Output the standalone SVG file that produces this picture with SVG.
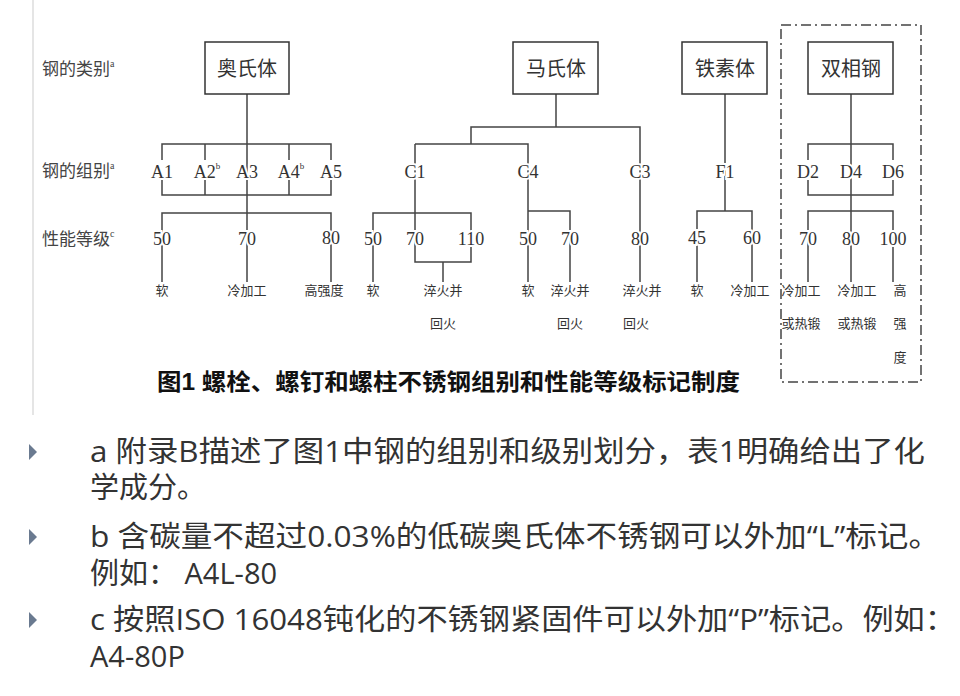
<svg xmlns="http://www.w3.org/2000/svg" width="960" height="696" viewBox="0 0 960 696">
<style>
.l{stroke:#444;stroke-width:1.5;fill:none}
.b{fill:#fff;stroke:#333;stroke-width:1.5}
.t{font-family:"Liberation Serif","Noto Sans CJK SC",serif;fill:#333;text-anchor:middle}
.n{font-size:18px}
.s{font-size:13px}
.h{font-size:20px}
.lab{font-family:"Liberation Serif","Noto Sans CJK SC",serif;fill:#444;font-size:17px}
.p{font-family:"Open Sans","Noto Sans CJK SC",sans-serif;font-size:29px;fill:#333}
.tri{fill:#6a7a90}
</style>
<rect width="960" height="696" fill="#fff"/>
<line x1="33" y1="0" x2="33" y2="415" stroke="#ddd" stroke-width="1.5"/>
<g id="rowlabels">
<text class="lab" x="42" y="75">钢的类别<tspan font-size="10" dy="-8">a</tspan></text>
<text class="lab" x="42" y="177">钢的组别<tspan font-size="10" dy="-8">a</tspan></text>
<text class="lab" x="42" y="245">性能等级<tspan font-size="10" dy="-8">c</tspan></text>
</g>
<g id="connectors">
<path class="l" d="M247 94V282M162 160V144H331V160M205 144V160M289 144V160M162 180V195H331V180M205 180V195M289 180V195M162 282V213H331V282"/>
<path class="l" d="M556 94V127M471 144V127H640V282M415 144H528V282M415 144V262H471V213H373V282M443 262V282M528 211H570V282"/>
<path class="l" d="M725 94V211M697 282V211H752V282"/>
<path class="l" d="M851 94V282M808 160V144H893V160M808 180V195H893V180M808 282V211H893V282"/>
<rect x="781" y="25" width="140" height="357" fill="none" stroke="#444" stroke-width="1.5" stroke-dasharray="10 4 2 4"/>
</g>
<g id="austenite"><rect class="b" x="205" y="42" width="84" height="52"/><text class="t h" x="247" y="76">奥氏体</text></g>
<g id="martensite"><rect class="b" x="513" y="42" width="85" height="52"/><text class="t h" x="556" y="76">马氏体</text></g>
<g id="ferrite"><rect class="b" x="682" y="42" width="85" height="52"/><text class="t h" x="725" y="76">铁素体</text></g>
<g id="duplex"><rect class="b" x="808" y="42" width="85" height="52"/><text class="t h" x="851" y="76">双相钢</text></g>
<g id="groups">
<text class="t n" x="162" y="178" stroke="#fff" stroke-width="4" paint-order="stroke">A1</text>
<text class="t n" x="207" y="178" stroke="#fff" stroke-width="4" paint-order="stroke">A2<tspan font-size="9" dy="-9" stroke-width="0">b</tspan></text>
<text class="t n" x="247" y="178" stroke="#fff" stroke-width="4" paint-order="stroke">A3</text>
<text class="t n" x="291" y="178" stroke="#fff" stroke-width="4" paint-order="stroke">A4<tspan font-size="9" dy="-9" stroke-width="0">b</tspan></text>
<text class="t n" x="331" y="178" stroke="#fff" stroke-width="4" paint-order="stroke">A5</text>
<text class="t n" x="415" y="178" stroke="#fff" stroke-width="4" paint-order="stroke">C1</text>
<text class="t n" x="528" y="178" stroke="#fff" stroke-width="4" paint-order="stroke">C4</text>
<text class="t n" x="640" y="178" stroke="#fff" stroke-width="4" paint-order="stroke">C3</text>
<text class="t n" x="725" y="178" stroke="#fff" stroke-width="4" paint-order="stroke">F1</text>
<text class="t n" x="808" y="178" stroke="#fff" stroke-width="4" paint-order="stroke">D2</text>
<text class="t n" x="851" y="178" stroke="#fff" stroke-width="4" paint-order="stroke">D4</text>
<text class="t n" x="893" y="178" stroke="#fff" stroke-width="4" paint-order="stroke">D6</text>
</g>
<g id="grades">
<text class="t n" x="162" y="245" stroke="#fff" stroke-width="4" paint-order="stroke">50</text>
<text class="t n" x="247" y="245" stroke="#fff" stroke-width="4" paint-order="stroke">70</text>
<text class="t n" x="331" y="244" stroke="#fff" stroke-width="4" paint-order="stroke">80</text>
<text class="t n" x="373" y="245" stroke="#fff" stroke-width="4" paint-order="stroke">50</text>
<text class="t n" x="415" y="245" stroke="#fff" stroke-width="4" paint-order="stroke">70</text>
<text class="t n" x="471" y="245" stroke="#fff" stroke-width="4" paint-order="stroke">110</text>
<text class="t n" x="528" y="245" stroke="#fff" stroke-width="4" paint-order="stroke">50</text>
<text class="t n" x="570" y="245" stroke="#fff" stroke-width="4" paint-order="stroke">70</text>
<text class="t n" x="640" y="245" stroke="#fff" stroke-width="4" paint-order="stroke">80</text>
<text class="t n" x="697" y="244" stroke="#fff" stroke-width="4" paint-order="stroke">45</text>
<text class="t n" x="752" y="244" stroke="#fff" stroke-width="4" paint-order="stroke">60</text>
<text class="t n" x="808" y="245" stroke="#fff" stroke-width="4" paint-order="stroke">70</text>
<text class="t n" x="851" y="245" stroke="#fff" stroke-width="4" paint-order="stroke">80</text>
<text class="t n" x="893" y="245" stroke="#fff" stroke-width="4" paint-order="stroke">100</text>
</g>
<g id="props">
<text class="t s" x="162" y="295">软</text>
<text class="t s" x="247" y="295">冷加工</text>
<text class="t s" x="324" y="295">高强度</text>
<text class="t s" x="373" y="295">软</text>
<text class="t s" x="443" y="295">淬火并</text>
<text class="t s" x="443" y="328">回火</text>
<text class="t s" x="528" y="295">软</text>
<text class="t s" x="570" y="295">淬火并</text>
<text class="t s" x="570" y="328">回火</text>
<text class="t s" x="642" y="295">淬火并</text>
<text class="t s" x="636" y="328">回火</text>
<text class="t s" x="697" y="295">软</text>
<text class="t s" x="750" y="295">冷加工</text>
<text class="t s" x="801" y="295">冷加工</text>
<text class="t s" x="801" y="328">或热锻</text>
<text class="t s" x="857" y="295">冷加工</text>
<text class="t s" x="857" y="328">或热锻</text>
<text class="t s" x="900" y="295">高</text>
<text class="t s" x="900" y="328">强</text>
<text class="t s" x="900" y="362">度</text>
</g>
<text x="157" y="390" font-family="Liberation Sans,'Noto Sans CJK SC',sans-serif" font-weight="bold" font-size="23" fill="#111" textLength="583" lengthAdjust="spacingAndGlyphs">图1  螺栓、螺钉和螺柱不锈钢组别和性能等级标记制度</text>
<g id="notes">
<path class="tri" d="M29 444L37 452L29 460Z"/>
<path class="tri" d="M29 529L37 537L29 545Z"/>
<path class="tri" d="M29 612L37 620L29 628Z"/>
<text class="p" x="90" y="462" textLength="835" lengthAdjust="spacingAndGlyphs">a 附录B描述了图1中钢的组别和级别划分，表1明确给出了化</text>
<text class="p" x="90" y="498">学成分。</text>
<text class="p" x="90" y="547" textLength="850" lengthAdjust="spacingAndGlyphs">b 含碳量不超过0.03%的低碳奥氏体不锈钢可以外加“L”标记。</text>
<text class="p" x="90" y="584">例如：  A4L-80</text>
<text class="p" x="90" y="630" textLength="866" lengthAdjust="spacingAndGlyphs">c 按照ISO 16048钝化的不锈钢紧固件可以外加“P”标记。例如：</text>
<text class="p" x="90" y="667">A4-80P</text>
</g>
</svg>
